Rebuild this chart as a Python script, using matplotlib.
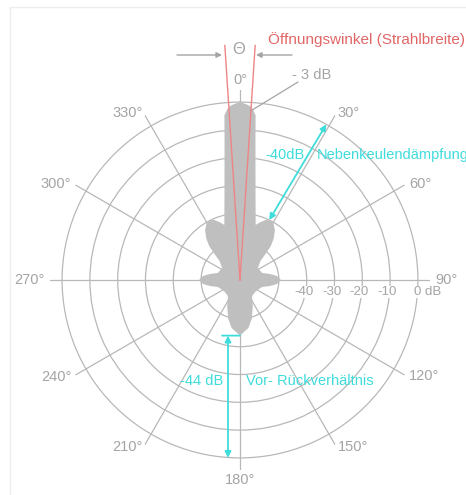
import numpy as np
import matplotlib.pyplot as plt
from matplotlib import transforms
from matplotlib.lines import Line2D

plt.rcParams['font.family'] = ['Liberation Sans', 'DejaVu Sans']

# Richtdiagramm einer Antenne, Pegel in dB bezogen auf das Maximum
# Umriss im Uhrzeigersinn, 0° = Hauptstrahlrichtung
pattern_deg = [0, 1.9, 3.3, 4.3, 5.0, 5.4, 6.3, 8.0, 11.0,
               15.9, 19.0, 23.4, 27.0, 30.6, 35.0, 39.3, 42.3, 44.6, 47, 56,
               72, 78.7, 83.8, 90, 96.2, 101.3, 107.7, 125,
               143, 154, 163, 170, 180,
               190, 197, 206, 217,
               235, 252.3, 258.7, 263.8, 270, 276.2, 281.3, 288,
               304, 313, 315.4, 317.7, 320.7, 325, 329.4, 333, 336.6, 341, 344.1,
               349, 352, 353.7, 354.6, 355.0, 355.7, 356.7, 358.1, 360]
pattern_db = [0, -0.65, -1.35, -2.45, -3.8, -4.4, -13.3, -24.0, -34.7,
              -43.4, -42.1, -40.4, -40, -40.4, -42.1, -44.9, -47.6, -51.1, -54, -56.2,
              -55.7, -53, -50.6, -49.3, -50.6, -53, -55.7, -57,
              -56.8, -53.5, -49.5, -46.5, -44,
              -46.5, -49.5, -53.5, -56.8,
              -57, -55.7, -53, -50.6, -49.3, -50.6, -53, -55.7,
              -56.2, -54, -51.1, -47.6, -44.9, -42.1, -40.4, -40, -40.4, -42.1, -43.4,
              -34.7, -24.0, -13.3, -4.4, -3.8, -2.45, -1.35, -0.65, 0]

ring_db = [-50, -40, -30, -20, -10, 0]
ring_labels = ['', '-40', '-30', '-20', '-10', '0 dB']
angle_ticks = list(range(0, 360, 30))
angle_labels = [f'{a}°' for a in angle_ticks]

beam_half_deg = 3.7          # halber -3-dB-Öffnungswinkel
sidelobe_deg, sidelobe_db = 26, -40
back_db = -44
r_min, r_max = -64, 4.35

gray = '#a4a4a4'
grid_gray = '#b8b8b8'
lobe_gray = '#bfbfbf'
red_txt = '#e06666'
red_line = '#ee8585'
cyan = '#3fdcdc'

W, H = 466, 495
fig = plt.figure(figsize=(W / 100, H / 100), dpi=100)


def fig_xy(x, y):
    return (x / W, 1 - y / H)


cx, cy, R = 240, 280, 190
ax = fig.add_axes([(cx - R) / W, (H - cy - R) / H, 2 * R / W, 2 * R / H],
                  projection='polar')
ax.set_theta_zero_location('N')
ax.set_theta_direction(-1)
ax.set_ylim(r_min, r_max)
ax.set_axisbelow(True)
ax.spines['polar'].set_visible(False)
ax.set_rgrids(ring_db, labels=[''] * len(ring_db))
ax.set_thetagrids(angle_ticks, labels=[''] * len(angle_ticks))
ax.grid(color=grid_gray, lw=0.9)
ax.tick_params(length=0)
ax.patch.set_alpha(0)

# Keulen
ax.fill(np.deg2rad(pattern_deg), pattern_db, color=lobe_gray, lw=0, zorder=2)

# Winkelbeschriftung aussen
for a, lbl in zip(angle_ticks, angle_labels):
    t = np.deg2rad(a)
    s, c = np.sin(t), np.cos(t)
    ha = 'left' if s > 0.1 else 'right' if s < -0.1 else 'center'
    va = 'bottom' if c > 0.9 else 'top' if c < -0.9 else 'center'
    ax.annotate(lbl, xy=(t, r_max), xytext=(5 * s, 3 * c),
                textcoords='offset pixels', ha=ha, va=va,
                color=gray, fontsize=10.5, annotation_clip=False)

# dB-Skala entlang 90°
for d, lbl in zip(ring_db, ring_labels):
    if not lbl:
        continue
    ha = 'left' if d == 0 else 'center'
    dx = -4 if d == 0 else -3
    ax.annotate(lbl, xy=(np.pi / 2, d), xytext=(dx, -12),
                textcoords='offset pixels', ha=ha, va='center',
                color=gray, fontsize=9.5,
                bbox=dict(fc='white', ec='none', pad=0.3))

# Öffnungswinkel: zwei Strahlen durch die -3-dB-Punkte
for b in (-beam_half_deg, beam_half_deg):
    ax.plot([np.deg2rad(b)] * 2, [r_min, 20.5], color=red_line, lw=1,
            clip_on=False, zorder=4)

fig.text(*fig_xy(268, 40), 'Öffnungswinkel (Strahlbreite)', color=red_txt,
         fontsize=11, va='center')
fig.text(*fig_xy(239, 50), 'Θ', color=gray, fontsize=12,
         ha='center', va='center')
arr_gray = dict(arrowstyle='-|>', color=gray, lw=1, mutation_scale=8,
                shrinkA=0, shrinkB=0)
fig.add_artist(plt.Annotation('', xy=fig_xy(222, 55), xytext=fig_xy(177, 55),
                              xycoords='figure fraction', arrowprops=arr_gray))
fig.add_artist(plt.Annotation('', xy=fig_xy(256, 55), xytext=fig_xy(292, 55),
                              xycoords='figure fraction', arrowprops=arr_gray))

fig.text(*fig_xy(292, 75), '- 3 dB', color=gray, fontsize=10.5, va='center')
ax.annotate('', xy=(np.deg2rad(beam_half_deg), -3), xytext=fig_xy(298, 82),
            textcoords='figure fraction',
            arrowprops=dict(arrowstyle='-', color=gray, lw=0.9,
                            shrinkA=0, shrinkB=0))

# Nebenkeulendämpfung
arr_cyan = dict(arrowstyle='<|-|>', color=cyan, lw=1.3, mutation_scale=9,
                shrinkA=0, shrinkB=0)
ax.annotate('', xy=(np.deg2rad(29), 0),
            xytext=(np.deg2rad(sidelobe_deg), sidelobe_db), arrowprops=arr_cyan)
fig.text(*fig_xy(265, 155), '-40dB', color=cyan, fontsize=10.5, va='center')
fig.text(*fig_xy(317, 155), 'Nebenkeulendämpfung', color=cyan, fontsize=10.5,
         va='center')

# Vor-Rück-Verhältnis
shifted = transforms.offset_copy(ax.transData, fig=fig, x=-12, y=0, units='dots')
ax.annotate('', xy=(np.pi, 0), xytext=(np.pi, back_db),
            xycoords=shifted, textcoords=shifted, arrowprops=arr_cyan)
ax.annotate('', xy=(np.pi, back_db), xytext=(-18, 0),
            textcoords='offset pixels',
            arrowprops=dict(arrowstyle='-', color=cyan, lw=1.3,
                            shrinkA=0, shrinkB=0))
fig.text(*fig_xy(223, 381), '-44 dB', color=cyan, fontsize=10.5,
         ha='right', va='center')
fig.text(*fig_xy(246, 381), 'Vor- Rückverhältnis', color=cyan, fontsize=10.5,
         va='center')

# heller Rahmen oben und links
fig.add_artist(Line2D([10 / W, 1], [1 - 7 / H] * 2, transform=fig.transFigure,
                      color='#eeeeee', lw=1))
fig.add_artist(Line2D([10 / W] * 2, [0, 1 - 7 / H], transform=fig.transFigure,
                      color='#eeeeee', lw=1))

fig.savefig('out.png', dpi=100)
